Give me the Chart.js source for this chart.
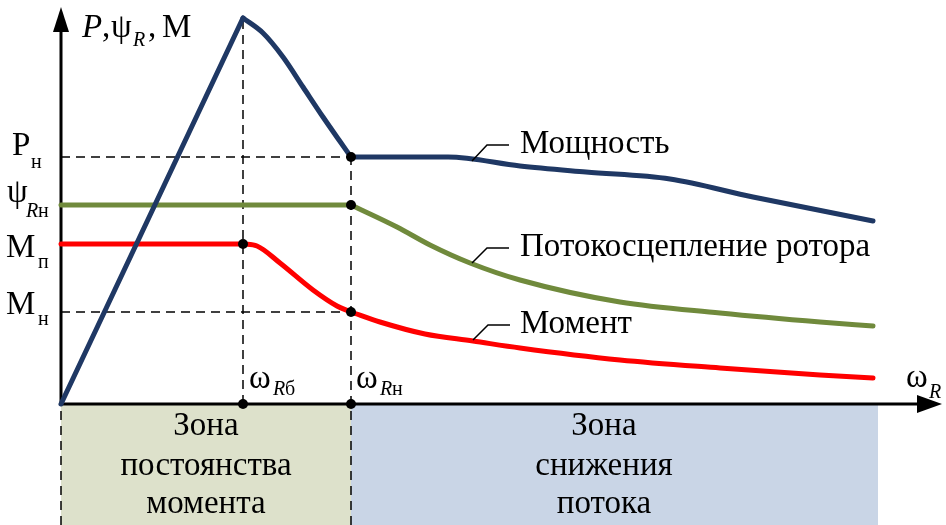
<!DOCTYPE html>
<html>
<head>
  <meta charset="utf-8">
  <title>Зоны регулирования</title>
  <script src="https://cdn.jsdelivr.net/npm/chart.js"></script>
  <style>
    body {
      margin: 0;
      background: #ffffff;
    }

    .chart-box {
      position: relative;
      width: 946px;
      height: 525px;
    }
  </style>
</head>
<body>
<div class="chart-box">
  <canvas id="zonesChart"></canvas>
</div>

<script>
  // characteristic speeds and the lower edge of the zone strip
  const omegaB = 18.2;
  const omegaN = 29;
  const zoneEnd = 81.7;
  const zoneBottom = -12.1;

  // levels marked on the vertical axis
  const levelP = 24.7;
  const levelPsi = 19.9;
  const levelMp = 16;
  const levelMn = 9.2;
  const peakP = 38.6;

  // power: linear rise, drop to nominal, then slow decline
  const powerRise = [[0, 0], [omegaB, peakP]];
  const powerFall = [[omegaB, peakP], [20.2, 37.1], [22.2, 34.7], [24.2, 31.7], [26.2, 28.7], [27.8, 26.4], [omegaN, levelP]];
  const powerTail = [[omegaN, levelP], [38.7, levelP], [45.9, 23.8], [52.5, 23.2], [60.9, 22.5], [69.2, 20.7], [81.2, 18.3]];

  // rotor flux linkage
  const fluxFlat = [[0, levelPsi], [omegaN, levelPsi]];
  const fluxFall = [[omegaN, levelPsi], [33.6, 17.7], [36.9, 15.9], [40.9, 14.1], [45.9, 12.4], [55.9, 10.2], [65.9, 9.1], [75.9, 8.2], [81.2, 7.8]];

  // torque
  const torqueFlat = [[0, levelMp], [omegaB, levelMp]];
  const torqueBend = [[omegaB, levelMp], [19.6, 15.8], [21.9, 14.1], [25.2, 11.4], [27.6, 9.8], [omegaN, levelMn]];
  const torqueTail = [[omegaN, levelMn], [31.9, 8.2], [36.4, 7.0], [41.2, 6.3], [45.9, 5.6], [55.9, 4.4], [65.9, 3.6], [75.9, 2.9], [81.2, 2.6]];

  // dashed projection lines and marked points
  const guides = [
    [[omegaB, 0], [omegaB, peakP]],
    [[omegaN, zoneBottom], [omegaN, levelP]],
    [[0, zoneBottom], [0, 0]],
    [[0, levelP], [omegaN, levelP]],
    [[0, levelMn], [omegaN, levelMn]]
  ];
  const markers = [[omegaB, levelMp], [omegaB, 0], [omegaN, levelP], [omegaN, levelPsi], [omegaN, levelMn], [omegaN, 0]];

  const NAVY = '#1F3864';
  const OLIVE = '#708A3C';
  const RED = '#FF0000';
  const SERIF = '"Liberation Serif", "Times New Roman", serif';
  const BIG = 33;
  const SUB = 20;

  const toXY = pts => pts.map(p => ({ x: p[0], y: p[1] }));

  function curve(label, pts, color, smooth) {
    return {
      label: label,
      data: toXY(pts),
      showLine: true,
      borderColor: color,
      borderWidth: 5,
      borderCapStyle: 'round',
      borderJoinStyle: 'round',
      pointRadius: 0,
      cubicInterpolationMode: smooth ? 'monotone' : 'default',
      tension: 0,
      clip: false,
      order: 1
    };
  }

  const datasets = [
    {
      label: 'points',
      data: toXY(markers),
      showLine: false,
      pointRadius: 5,
      pointBackgroundColor: '#000',
      pointBorderWidth: 0,
      clip: false,
      order: 0
    },
    curve('Мощность', powerRise, NAVY, false),
    curve('Мощность', powerFall, NAVY, true),
    curve('Мощность', powerTail, NAVY, true),
    curve('Потокосцепление ротора', fluxFlat, OLIVE, false),
    curve('Потокосцепление ротора', fluxFall, OLIVE, true),
    curve('Момент', torqueFlat, RED, false),
    curve('Момент', torqueBend, RED, true),
    curve('Момент', torqueTail, RED, true)
  ];

  guides.forEach(g => {
    datasets.push({
      label: 'guide',
      data: toXY(g),
      showLine: true,
      borderColor: '#000',
      borderWidth: 1.5,
      borderDash: [9, 6],
      pointRadius: 0,
      clip: false,
      order: 2
    });
  });

  function put(ctx, text, px, py, size, italic, align) {
    ctx.font = (italic ? 'italic ' : '') + size + 'px ' + SERIF;
    ctx.textAlign = align || 'left';
    ctx.textBaseline = 'alphabetic';
    ctx.fillStyle = '#000';
    ctx.fillText(text, px, py);
  }

  // zones, axes with arrows, labels and callouts
  const schemePlugin = {
    id: 'scheme',
    beforeDatasetsDraw(chart) {
      const ctx = chart.ctx;
      const sx = chart.scales.x;
      const sy = chart.scales.y;
      const x0 = sx.getPixelForValue(0);
      const xN = sx.getPixelForValue(omegaN);
      const xEnd = sx.getPixelForValue(zoneEnd);
      const y0 = sy.getPixelForValue(0);
      const yBot = sy.getPixelForValue(zoneBottom);
      const yTip = sy.getPixelForValue(39.7);
      const xTip = sx.getPixelForValue(88.1);

      ctx.save();
      ctx.fillStyle = '#DDE1CB';
      ctx.fillRect(x0, y0, xN - x0, yBot - y0);
      ctx.fillStyle = '#C9D5E6';
      ctx.fillRect(xN, y0, xEnd - xN, yBot - y0);

      ctx.strokeStyle = '#000';
      ctx.lineWidth = 3;
      ctx.beginPath();
      ctx.moveTo(x0, y0 + 1.5);
      ctx.lineTo(x0, yTip + 20);
      ctx.moveTo(x0 - 1.5, y0);
      ctx.lineTo(xTip - 20, y0);
      ctx.stroke();

      ctx.fillStyle = '#000';
      ctx.beginPath();
      ctx.moveTo(x0, yTip);
      ctx.lineTo(x0 + 8, yTip + 25);
      ctx.lineTo(x0 - 8, yTip + 25);
      ctx.closePath();
      ctx.fill();
      ctx.beginPath();
      ctx.moveTo(xTip, y0);
      ctx.lineTo(xTip - 25, y0 - 9);
      ctx.lineTo(xTip - 25, y0 + 9);
      ctx.closePath();
      ctx.fill();
      ctx.restore();
    },
    afterDraw(chart) {
      const ctx = chart.ctx;
      const sx = chart.scales.x;
      const sy = chart.scales.y;
      const X = v => sx.getPixelForValue(v);
      const Y = v => sy.getPixelForValue(v);
      ctx.save();

      // vertical axis title
      put(ctx, 'P', 82, 37, BIG, true);
      put(ctx, ',', 102, 37, BIG, false);
      put(ctx, 'ψ', 111, 37, BIG, false);
      put(ctx, 'R', 133, 46, SUB, true);
      put(ctx, ',', 148, 37, BIG, false);
      put(ctx, 'M', 162, 37, BIG, false);

      // levels on the vertical axis
      put(ctx, 'P', 12, Y(levelP) - 2, BIG, false);
      put(ctx, 'н', 31, Y(levelP) + 11, SUB, false);
      put(ctx, 'ψ', 7, Y(levelPsi) - 3, BIG, false);
      put(ctx, 'R', 26, Y(levelPsi) + 12, SUB, true);
      put(ctx, 'н', 38, Y(levelPsi) + 12, SUB, false);
      put(ctx, 'M', 6, Y(levelMp) + 13, BIG, false);
      put(ctx, 'п', 38, Y(levelMp) + 24, SUB, false);
      put(ctx, 'M', 6, Y(levelMn) + 2, BIG, false);
      put(ctx, 'н', 38, Y(levelMn) + 13, SUB, false);

      // speeds on the horizontal axis
      const y0 = Y(0);
      put(ctx, 'ω', X(omegaB) + 6, y0 - 16, BIG, false);
      put(ctx, 'R', X(omegaB) + 30, y0 - 9, SUB, true);
      put(ctx, 'б', X(omegaB) + 42, y0 - 9, SUB, false);
      put(ctx, 'ω', X(omegaN) + 5, y0 - 16, BIG, false);
      put(ctx, 'R', X(omegaN) + 29, y0 - 9, SUB, true);
      put(ctx, 'н', X(omegaN) + 41, y0 - 9, SUB, false);
      put(ctx, 'ω', 906, y0 - 17, BIG, false);
      put(ctx, 'R', 929, y0 - 6, SUB, true);

      // zone captions
      const cLeft = (X(0) + X(omegaN)) / 2;
      const cRight = 604;
      put(ctx, 'Зона', cLeft, 435, BIG, false, 'center');
      put(ctx, 'постоянства', cLeft, 475, BIG, false, 'center');
      put(ctx, 'момента', cLeft, 513, BIG, false, 'center');
      put(ctx, 'Зона', cRight, 435, BIG, false, 'center');
      put(ctx, 'снижения', cRight, 475, BIG, false, 'center');
      put(ctx, 'потока', cRight, 513, BIG, false, 'center');

      // callouts from the curves to their names
      const callouts = [
        { text: 'Мощность', from: [41.1, 24.3], base: 153 },
        { text: 'Потокосцепление ротора', from: [41.1, 14.1], base: 256 },
        { text: 'Момент', from: [41.2, 6.4], base: 333 }
      ];
      ctx.strokeStyle = '#000';
      ctx.lineWidth = 1.5;
      callouts.forEach(c => {
        const px = X(c.from[0]);
        const py = Y(c.from[1]);
        const ly = c.base - 8;
        ctx.beginPath();
        ctx.moveTo(px, py);
        ctx.lineTo(px + 15, ly);
        ctx.lineTo(px + 37, ly);
        ctx.stroke();
        put(ctx, c.text, 520, c.base, BIG, false);
      });
      ctx.restore();
    }
  };

  new Chart(document.getElementById('zonesChart'), {
    type: 'scatter',
    data: { datasets: datasets },
    options: {
      responsive: true,
      maintainAspectRatio: false,
      animation: false,
      layout: {
        autoPadding: false,
        padding: { left: 61, right: 5, top: 4, bottom: 0 }
      },
      plugins: {
        legend: { display: false },
        tooltip: { enabled: false }
      },
      scales: {
        x: { type: 'linear', min: 0, max: 88, display: false },
        y: { type: 'linear', min: zoneBottom, max: 40, display: false }
      }
    },
    plugins: [schemePlugin]
  });
</script>
</body>
</html>
